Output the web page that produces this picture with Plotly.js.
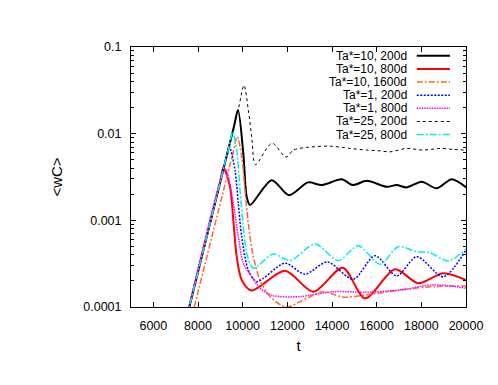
<!DOCTYPE html>
<html>
<head>
<meta charset="utf-8">
<script src="https://cdn.plot.ly/plotly-3.0.1.min.js"></script>
<style>
  body { margin: 0; background: #fff; }
  #chart { width: 498px; height: 385px; }
</style>
</head>
<body>
<div id="chart"></div>
<script>
// <wC> against t
var t10_200 = [7500, 9600, 9791, 10029, 10181, 10329, 11300, 12075, 12926, 13540, 14434, 14942, 15554, 16450, 16897, 17346, 18018, 18689, 19361, 20000];
var wc10_200 = [7.7e-5, 0.0118, 0.0187, 0.00592, 0.00187, 0.0015, 0.00291, 0.00195, 0.00274, 0.00255, 0.00297, 0.00255, 0.00286, 0.00244, 0.00255, 0.0024, 0.00279, 0.00234, 0.00297, 0.0024];

var t10_800 = [7500, 9000, 9140, 9433, 9581, 9733, 9957, 10400, 11896, 13163, 14480, 15479, 16822, 17866, 18985, 20000];
var wc10_800 = [7.7e-5, 0.0028, 0.0041, 0.00244, 0.00101, 0.000381, 0.000205, 0.000155, 0.000262, 0.00015, 0.000284, 0.000126, 0.000272, 0.000188, 0.000245, 0.000205];

var t10_1600 = [7700, 9550, 9760, 9957, 10105, 10253, 10477, 10777, 11224, 11950, 12868, 13611, 14507, 15554, 17046, 18537, 20000];
var wc10_1600 = [7.3e-5, 0.00575, 0.0092, 0.0054, 0.00223, 0.00092, 0.00038, 0.000205, 0.000132, 0.0001, 0.000126, 0.00015, 0.00013, 0.000138, 0.000157, 0.000172, 0.000175];

var t1_200 = [7500, 9250, 9402, 9657, 9805, 9957, 10253, 10629, 11896, 12792, 13790, 14955, 15926, 16898, 17794, 18985, 20000];
var wc1_200 = [7.7e-5, 0.0051, 0.0071, 0.0038, 0.00157, 0.000647, 0.000267, 0.000196, 0.00032, 0.000239, 0.000331, 0.000209, 0.000391, 0.000228, 0.000381, 0.000224, 0.000455];

var t1_800 = [7500, 9050, 9241, 9581, 9805, 10029, 10405, 10777, 11372, 12568, 14059, 15554, 17046, 18537, 20000];
var wc1_800 = [7.7e-5, 0.00315, 0.0038, 0.00157, 0.000647, 0.00032, 0.000224, 0.000165, 0.000135, 0.000132, 0.00015, 0.000148, 0.000157, 0.00018, 0.000165];

var t25_200 = [7500, 9800, 10060, 10253, 10405, 10575, 11314, 11941, 12268, 12868, 13911, 14807, 15554, 16150, 16598, 17346, 18090, 18837, 19433, 20000];
var wc25_200 = [7.7e-5, 0.019, 0.0362, 0.0187, 0.00918, 0.0044, 0.00778, 0.00536, 0.00646, 0.00694, 0.00718, 0.00676, 0.00646, 0.00634, 0.00617, 0.00676, 0.00646, 0.00676, 0.00658, 0.00646];

var t25_800 = [7500, 9400, 9554, 9733, 9881, 10029, 10181, 10477, 11372, 12120, 13240, 14284, 15179, 16150, 16970, 17794, 18390, 19209, 20000];
var wc25_800 = [7.7e-5, 0.0073, 0.0105, 0.00646, 0.00223, 0.000844, 0.000417, 0.00028, 0.000409, 0.000343, 0.000533, 0.000343, 0.00051, 0.000311, 0.000497, 0.000435, 0.000423, 0.00034, 0.000467];

var names = ['Ta*=10, 200d', 'Ta*=10, 800d', 'Ta*=10, 1600d', 'Ta*=1, 200d', 'Ta*=1, 800d', 'Ta*=25, 200d', 'Ta*=25, 800d'];
var xTicks = [6000, 8000, 10000, 12000, 14000, 16000, 18000, 20000];
var yTicks = [0.0001, 0.001, 0.01, 0.1];
var yTickText = ['0.0001', '0.001', '0.01', '0.1'];

var xs = [t10_200, t10_800, t10_1600, t1_200, t1_800, t25_200, t25_800];
var ys = [wc10_200, wc10_800, wc10_1600, wc1_200, wc1_800, wc25_200, wc25_800];
var styles = [
  {color: '#000000', width: 2, dash: 'solid'},
  {color: '#ff0000', width: 2, dash: 'solid'},
  {color: '#ff6633', width: 1.5, dash: '6px,2px,2px,2px'},
  {color: '#0000ff', width: 1.5, dash: '2px,1.5px'},
  {color: '#ff00ff', width: 1.5, dash: '1.5px,1px'},
  {color: '#000000', width: 1, dash: '3px,3px'},
  {color: '#00eeee', width: 1.5, dash: '7px,2px,2px,2px'}
];

var data = [];
for (var i = 0; i < xs.length; i++) {
  data.push({
    x: xs[i], y: ys[i], name: names[i],
    type: 'scatter', mode: 'lines',
    line: {color: styles[i].color, width: styles[i].width, dash: styles[i].dash, shape: 'spline', smoothing: 0.8},
    showlegend: false
  });
}

// minor log ticks 2..9 in each decade
var minorVals = [];
for (var d = 0; d < yTicks.length - 1; d++) {
  for (var k = 2; k < 10; k++) minorVals.push(yTicks[d] * k);
}

// legend drawn by hand: text on the left, line sample on the right
var shapes = [], annotations = [];
for (var j = 0; j < names.length; j++) {
  var yy = 0.966 - j * 0.0505;
  annotations.push({
    xref: 'paper', yref: 'paper', x: 0.826, y: yy, xanchor: 'right', yanchor: 'middle',
    text: names[j], showarrow: false, borderpad: 0, font: {size: 12, color: '#000'}
  });
  shapes.push({
    type: 'line', xref: 'paper', yref: 'paper', x0: 0.853, x1: 0.952, y0: yy, y1: yy,
    line: {color: styles[j].color, width: styles[j].width, dash: styles[j].dash}
  });
}

var layout = {
  width: 498, height: 385,
  margin: {l: 131, r: 32, t: 47, b: 78},
  paper_bgcolor: '#fff', plot_bgcolor: '#fff',
  font: {family: 'Liberation Sans, Arial, sans-serif', size: 12.5, color: '#000'},
  showlegend: false,
  xaxis: {
    range: [5000, 20000], tickvals: xTicks, ticktext: xTicks.map(String),
    ticks: 'inside', ticklen: 5, tickcolor: '#000', ticklabelstandoff: 7,
    showline: true, linecolor: '#000', linewidth: 1, mirror: 'allticks',
    showgrid: false, zeroline: false,
    title: {text: 't', standoff: 8}
  },
  yaxis: {
    type: 'log', range: [-4, -1], tickvals: yTicks, ticktext: yTickText,
    ticks: 'inside', ticklen: 5, tickcolor: '#000', ticklabelstandoff: 6,
    minor: {tickvals: minorVals, ticks: 'inside', ticklen: 3, tickcolor: '#000', showgrid: false},
    showline: true, linecolor: '#000', linewidth: 1, mirror: 'allticks',
    showgrid: false, zeroline: false,
    title: {text: '&lt;wC&gt;', standoff: 17}
  },
  shapes: shapes,
  annotations: annotations
};

Plotly.newPlot('chart', data, layout, {staticPlot: true});
</script>
</body>
</html>
